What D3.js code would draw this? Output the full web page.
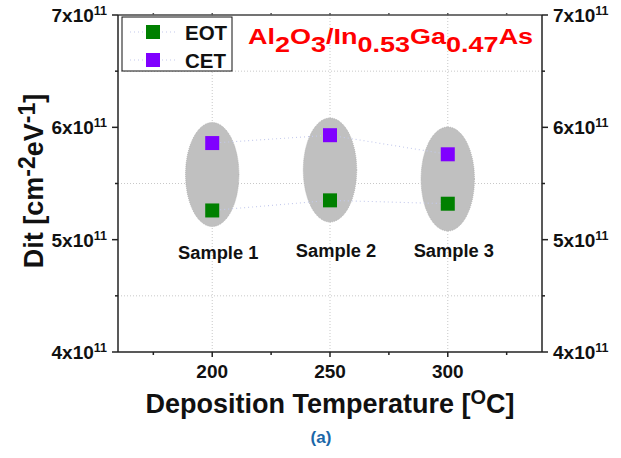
<!DOCTYPE html>
<html>
<head>
<meta charset="utf-8">
<script src="https://cdn.jsdelivr.net/npm/d3@7"></script>
<style>
  html, body { margin: 0; padding: 0; background: #fff; }
  text { font-family: "Liberation Sans", Arial, sans-serif; font-weight: bold; }
</style>
</head>
<body>
<svg id="chart" width="621" height="458"></svg>
<script>
// ---- data (Dit in units of 1e11 cm^-2 eV^-1) ----
const temperatures = [200, 250, 300];
const sampleNames = ["Sample 1", "Sample 2", "Sample 3"];
const eotValues = [5.26, 5.35, 5.32];
const cetValues = [5.86, 5.93, 5.76];
const groupCenter = [5.58, 5.62, 5.54];
const xMajorTicks = [200, 250, 300];
const xMinorTicks = [175, 225, 275, 325];
const yMajorTicks = [4, 5, 6, 7];
const yMinorTicks = [4.5, 5.5, 6.5];
const seriesNames = ["EOT", "CET"];
const seriesColors = ["#008000", "#8000ff"];

const svg = d3.select("#chart");
const L = 118, R = 542, T = 15, B = 352;
const x = d3.scaleLinear().domain([160, 340]).range([L, R]);
const y = d3.scaleLinear().domain([4, 7]).range([B, T]);

// grid
const grid = svg.append("g").attr("stroke", "#c8c8c8").attr("stroke-width", 1).attr("stroke-dasharray", "1,2");
grid.selectAll("line.v").data(xMajorTicks).join("line")
  .attr("x1", d => x(d)).attr("x2", d => x(d)).attr("y1", T).attr("y2", B);
grid.selectAll("line.h").data(yMinorTicks).join("line")
  .attr("x1", L).attr("x2", R).attr("y1", d => y(d)).attr("y2", d => y(d));

// ellipses
svg.append("g").selectAll("ellipse").data(temperatures).join("ellipse")
  .attr("cx", d => x(d)).attr("cy", (d, i) => y(groupCenter[i]))
  .attr("rx", 26.7).attr("ry", 52)
  .attr("fill", "#c0c0c0").attr("stroke", "#a9a9a9").attr("stroke-width", 0.8).attr("stroke-dasharray", "1,1");

// connecting dotted lines
const line = d3.line().x(d => x(d[0])).y(d => y(d[1]));
[eotValues, cetValues].forEach(vals => {
  svg.append("path")
    .attr("d", line(temperatures.map((t, i) => [t, vals[i]])))
    .attr("fill", "none").attr("stroke", "#c3c9ec").attr("stroke-width", 1.1).attr("stroke-dasharray", "1,3");
});

// markers
const ms = 14;
[eotValues, cetValues].forEach((vals, si) => {
  svg.append("g").selectAll("rect").data(vals).join("rect")
    .attr("x", (d, i) => x(temperatures[i]) - ms / 2)
    .attr("y", d => y(d) - ms / 2)
    .attr("width", ms).attr("height", ms)
    .attr("fill", seriesColors[si]);
});

// sample labels
svg.append("g").selectAll("text").data(sampleNames).join("text")
  .attr("x", (d, i) => x(temperatures[i]) + 6)
  .attr("y", (d, i) => i === 0 ? 259 : 257)
  .attr("text-anchor", "middle").attr("font-size", 18.3).attr("fill", "#111")
  .text(d => d);

// axes frame
const ax = svg.append("g").attr("stroke", "#222").attr("stroke-width", 1.5).attr("fill", "none");
ax.append("line").attr("x1", L).attr("x2", R).attr("y1", B).attr("y2", B);
ax.append("line").attr("x1", L).attr("x2", R).attr("y1", T).attr("y2", T).attr("stroke", "#444");
ax.append("line").attr("x1", L).attr("x2", L).attr("y1", T).attr("y2", B);
ax.append("line").attr("x1", R).attr("x2", R).attr("y1", T).attr("y2", B);

// ticks
ax.selectAll("line.xM").data(xMajorTicks).join("line")
  .attr("x1", d => x(d)).attr("x2", d => x(d)).attr("y1", B).attr("y2", B + 5);
ax.selectAll("line.xm").data(xMinorTicks).join("line")
  .attr("x1", d => x(d)).attr("x2", d => x(d)).attr("y1", B).attr("y2", B + 3);
ax.selectAll("line.xtM").data(xMajorTicks.concat(xMinorTicks)).join("line")
  .attr("stroke", "#555")
  .attr("x1", d => x(d)).attr("x2", d => x(d)).attr("y1", T).attr("y2", T - 2);
ax.selectAll("line.yM").data(yMajorTicks).join("line")
  .attr("x1", L - 6).attr("x2", L).attr("y1", d => y(d)).attr("y2", d => y(d));
ax.selectAll("line.ym").data(yMinorTicks).join("line")
  .attr("x1", L - 3).attr("x2", L).attr("y1", d => y(d)).attr("y2", d => y(d));
ax.selectAll("line.yrM").data(yMajorTicks).join("line")
  .attr("x1", R).attr("x2", R + 6).attr("y1", d => y(d)).attr("y2", d => y(d));
ax.selectAll("line.yrm").data(yMinorTicks).join("line")
  .attr("x1", R).attr("x2", R + 3).attr("y1", d => y(d)).attr("y2", d => y(d));

// x tick labels
svg.append("g").selectAll("text").data(xMajorTicks).join("text")
  .attr("x", d => x(d)).attr("y", 378)
  .attr("text-anchor", "middle").attr("font-size", 19).attr("fill", "#111")
  .text(d => d);

// y tick labels (left and right)
function yLabel(g, d, anchor, xpos) {
  const t = g.append("text").attr("x", xpos).attr("y", y(d) + 7)
    .attr("text-anchor", anchor).attr("font-size", 19).attr("fill", "#111");
  t.append("tspan").text(d + "x10");
  t.append("tspan").attr("font-size", 12.5).attr("dy", -7).text("11");
}
const yl = svg.append("g");
yMajorTicks.forEach(d => { yLabel(yl, d, "end", 107); yLabel(yl, d, "start", 553); });

// axis titles
const xt = svg.append("text").attr("x", 330).attr("y", 413)
  .attr("text-anchor", "middle").attr("font-size", 27).attr("fill", "#111");
xt.append("tspan").text("Deposition Temperature [");
xt.append("tspan").attr("font-size", 20).attr("dy", -9).text("O");
xt.append("tspan").attr("dy", 9).text("C]");

const ytl = svg.append("text").attr("transform", "translate(43,181) rotate(-90)")
  .attr("text-anchor", "middle").attr("font-size", 27).attr("fill", "#111");
ytl.append("tspan").text("Dit [cm");
ytl.append("tspan").attr("font-size", 23).attr("dy", -8).text("-2");
ytl.append("tspan").attr("dy", 8).text("eV");
ytl.append("tspan").attr("font-size", 23).attr("dy", -8).text("-1");
ytl.append("tspan").attr("dy", 8).text("]");

// title
const tt = svg.append("text").attr("transform", "translate(248,43.5) scale(1.2,1)")
  .attr("font-size", 22.5).attr("fill", "#ff0000");
const parts = [["Al", 0], ["2", 8], ["O", -8], ["3", 8], ["/In", -8], ["0.53", 8], ["Ga", -8], ["0.47", 8], ["As", -8]];
parts.forEach(p => tt.append("tspan").attr("dy", p[1]).text(p[0]));

// legend
const lg = svg.append("g");
lg.append("rect").attr("x", 122).attr("y", 17).attr("width", 110).attr("height", 54)
  .attr("fill", "#fff").attr("stroke", "#111").attr("stroke-width", 1);
const rowsY = [32, 60];
seriesNames.forEach((n, i) => {
  lg.append("line").attr("x1", 130).attr("x2", 177).attr("y1", rowsY[i]).attr("y2", rowsY[i])
    .attr("stroke", "#c3c9ec").attr("stroke-width", 1.1).attr("stroke-dasharray", "1,3");
  lg.append("rect").attr("x", 153 - ms / 2).attr("y", rowsY[i] - ms / 2).attr("width", ms).attr("height", ms)
    .attr("fill", seriesColors[i]);
  lg.append("text").attr("x", 185).attr("y", rowsY[i] + 7.5).attr("font-size", 20.5).attr("fill", "#111").text(n);
});

// panel label
svg.append("text").attr("x", 321).attr("y", 443).attr("text-anchor", "middle")
  .attr("font-size", 17).attr("fill", "#1b67a8").text("(a)");
</script>
</body>
</html>
